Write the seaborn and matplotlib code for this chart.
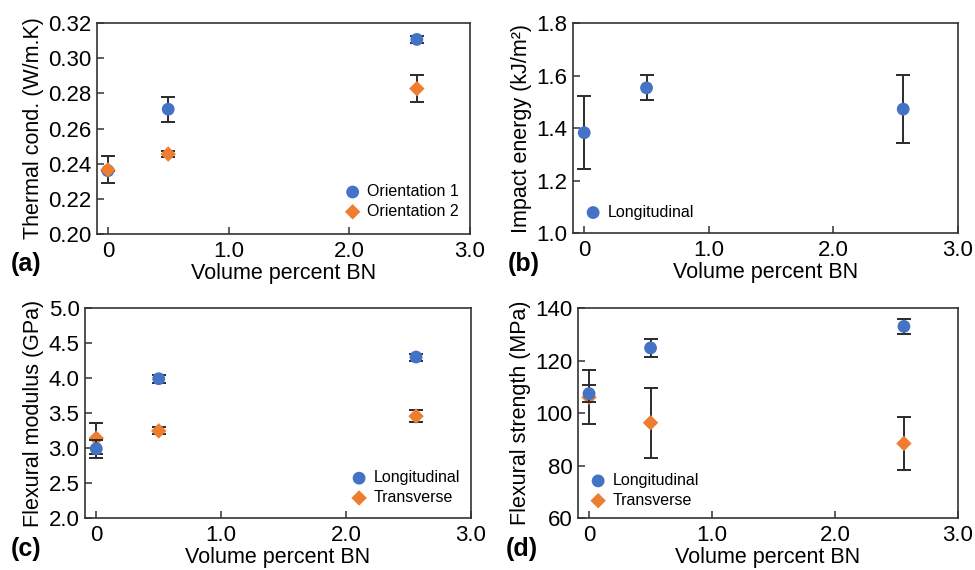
import numpy as np
import pandas as pd
import matplotlib
matplotlib.use("Agg")
import matplotlib.pyplot as plt
import seaborn as sns

sns.set_theme(style="white")
plt.rcParams['font.family'] = ['Liberation Sans', 'DejaVu Sans']
plt.rcParams['text.color'] = 'black'
plt.rcParams['axes.labelcolor'] = 'black'

# ---------------- data ----------------
vol_bn = [0.0, 0.5, 2.56]

# (a) thermal conductivity
tc_or1 = [0.236, 0.271, 0.3107]
tc_or1_err = [0.0, 0.0072, 0.002]
tc_or2 = [0.2365, 0.2455, 0.2827]
tc_or2_err = [0.0077, 0.0015, 0.0077]

# (b) impact energy
ie_long = [1.382, 1.553, 1.472]
ie_long_err = [0.139, 0.048, 0.130]

# (c) flexural modulus
fm_long = [2.99, 3.99, 4.30]
fm_long_err = [0.13, 0.06, 0.05]
fm_trans = [3.14, 3.245, 3.455]
fm_trans_err = [0.22, 0.05, 0.09]

# (d) flexural strength
fs_long = [107.4, 124.8, 133.0]
fs_long_err = [3.3, 3.4, 2.8]
fs_trans = [106.0, 96.3, 88.4]
fs_trans_err = [10.3, 13.3, 10.2]

xtick_vals = [0, 1, 2, 3]
xtick_labels = ["0", "1.0", "2.0", "3.0"]

BLUE = "#4472C4"
ORANGE = "#ED7D31"
ERRC = "#2b2b2b"

fig = plt.figure(figsize=(9.75, 5.7), dpi=100)

positions = {
    'a': [0.0995, 0.5895, 0.3825, 0.370],
    'b': [0.5877, 0.5912, 0.3949, 0.3684],
    'c': [0.0872, 0.0912, 0.3959, 0.3684],
    'd': [0.5928, 0.0912, 0.3898, 0.3684],
}

CIRCLE_S = 85
DIAMOND_S = 62


def series_df(y, err, name):
    return pd.DataFrame({'x': vol_bn, 'y': y, 'err': err, 'series': name})


def draw_series(ax, df, color, marker, size, z):
    ax.errorbar(df['x'], df['y'], yerr=df['err'], fmt='none', ecolor=ERRC,
                elinewidth=1.4, capsize=4.8, capthick=1.4, zorder=z)
    sns.scatterplot(data=df, x='x', y='y', color=color, marker=marker, s=size,
                    edgecolor='none', linewidth=0, ax=ax, label=df['series'].iloc[0],
                    zorder=z + 0.5)


def style_ax(ax, ylim, yticks, yticklabels, ylabel):
    ax.set_xlim(-0.09, 3.0)
    ax.set_ylim(*ylim)
    ax.set_xticks(xtick_vals)
    ax.set_xticklabels(xtick_labels)
    ax.set_yticks(yticks)
    ax.set_yticklabels(yticklabels)
    ax.tick_params(axis='both', which='major', direction='in', length=5, width=1.1,
                   color='#333333', labelsize=16, labelcolor='black',
                   bottom=True, left=True, top=False, right=False)
    ax.tick_params(axis='x', pad=5)
    ax.tick_params(axis='y', pad=4)
    for sp in ax.spines.values():
        sp.set_color('#333333')
        sp.set_linewidth(1.2)
        sp.set_visible(True)
    ax.set_xlabel("Volume percent BN", fontsize=15.5, labelpad=1)
    ax.set_ylabel(ylabel, fontsize=15.5, labelpad=3)
    ax.grid(False)


def legend(ax, loc, order=None, bbox=None):
    h, l = ax.get_legend_handles_labels()
    if order is not None:
        h = [h[i] for i in order]
        l = [l[i] for i in order]
    kw = dict(loc=loc, frameon=False, fontsize=11.5, handletextpad=0.1,
              labelspacing=0.3, borderaxespad=0.3, markerscale=1.0,
              handlelength=1.6)
    if bbox is not None:
        kw['bbox_to_anchor'] = bbox
    leg = ax.legend(h, l, **kw)
    for t in leg.get_texts():
        t.set_color('black')


# (a)
ax = fig.add_axes(positions['a'])
draw_series(ax, series_df(tc_or1, tc_or1_err, 'Orientation 1'), BLUE, 'o', CIRCLE_S, 2)
draw_series(ax, series_df(tc_or2, tc_or2_err, 'Orientation 2'), ORANGE, 'D', DIAMOND_S, 4)
style_ax(ax, (0.20, 0.32), np.arange(0.20, 0.321, 0.02),
         [f"{v:.2f}" for v in np.arange(0.20, 0.321, 0.02)], "Thermal cond. (W/m.K)")
legend(ax, 'lower right', bbox=(1.0, 0.018))

# (b)
ax = fig.add_axes(positions['b'])
draw_series(ax, series_df(ie_long, ie_long_err, 'Longitudinal'), BLUE, 'o', CIRCLE_S, 2)
style_ax(ax, (1.0, 1.8), np.arange(1.0, 1.81, 0.2),
         [f"{v:.1f}" for v in np.arange(1.0, 1.81, 0.2)], "Impact energy (kJ/m²)")
legend(ax, 'lower left', bbox=(-0.01, 0.01))

# (c)
ax = fig.add_axes(positions['c'])
draw_series(ax, series_df(fm_trans, fm_trans_err, 'Transverse'), ORANGE, 'D', DIAMOND_S, 2)
draw_series(ax, series_df(fm_long, fm_long_err, 'Longitudinal'), BLUE, 'o', CIRCLE_S, 4)
style_ax(ax, (2.0, 5.0), np.arange(2.0, 5.01, 0.5),
         [f"{v:.1f}" for v in np.arange(2.0, 5.01, 0.5)], "Flexural modulus (GPa)")
legend(ax, 'lower right', order=[1, 0], bbox=(1.0, 0.008))

# (d)
ax = fig.add_axes(positions['d'])
draw_series(ax, series_df(fs_trans, fs_trans_err, 'Transverse'), ORANGE, 'D', DIAMOND_S, 2)
draw_series(ax, series_df(fs_long, fs_long_err, 'Longitudinal'), BLUE, 'o', CIRCLE_S, 4)
style_ax(ax, (60, 140), np.arange(60, 141, 20),
         [f"{v:d}" for v in np.arange(60, 141, 20)], "Flexural strength (MPa)")
legend(ax, 'lower left', order=[1, 0], bbox=(-0.01, -0.005))

# panel labels
for lab, (x, y) in {'(a)': (0.011, 0.536), '(b)': (0.521, 0.536),
                    '(c)': (0.011, 0.036), '(d)': (0.519, 0.036)}.items():
    fig.text(x, y, lab, fontsize=18, fontweight='bold', va='center', ha='left')

fig.savefig("out.png", dpi=100)
